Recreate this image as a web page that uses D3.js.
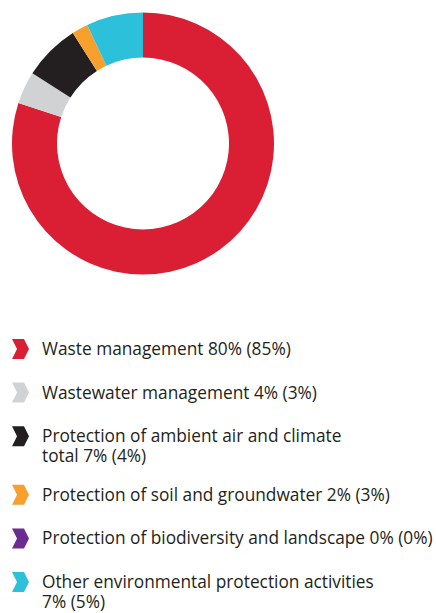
<!DOCTYPE html>
<html>
<head>
    <meta charset="UTF-8">
    <title>Environmental protection expenditure</title>
    <script src="https://d3js.org/d3.v7.min.js"></script>
    <style>
        body { margin: 0; background: #fff; }
    </style>
</head>
<body>
    <script>
        // categories (line breaks as the legend shows them)
        const categories = [
            ["Waste management"],
            ["Wastewater management"],
            ["Protection of ambient air and climate", "total"],
            ["Protection of soil and groundwater"],
            ["Protection of biodiversity and landscape"],
            ["Other environmental protection activities", ""]
        ];
        const shares = [80, 4, 7, 2, 0, 7];      // current year, %
        const prevShares = [85, 3, 4, 3, 0, 5];  // previous year, %
        const colors = ["#da1f35", "#d1d2d4", "#231f20", "#f7a02d", "#6b2c91", "#2dc0da"];

        const width = 436, height = 613;
        const cx = 143, cy = 143.5, outerR = 131, innerR = 86;

        const svg = d3.select("body").append("svg")
            .attr("width", width).attr("height", height);

        const pie = d3.pie().sort(null).value(d => d);
        const arc = d3.arc().innerRadius(innerR).outerRadius(outerR);

        svg.append("g")
            .attr("transform", `translate(${cx}, ${cy})`)
            .selectAll("path")
            .data(pie(shares)).enter().append("path")
            .attr("d", arc)
            .attr("fill", (d, i) => colors[i]);

        // legend
        const legend = svg.append("g")
            .attr("font-family", "'Open Sans', sans-serif")
            .attr("font-size", 17.3)
            .attr("fill", "#231f20");

        const lineH = 20;
        let y = 349;
        categories.forEach((lines, i) => {
            const row = legend.append("g").attr("transform", `translate(0, ${y})`);
            row.append("path")
                .attr("d", "M12,-10 L24,-10 L29,0 L24,10 L12,10 L17,0 Z")
                .attr("fill", colors[i]);

            const label = lines.slice();
            const tail = `${shares[i]}% (${prevShares[i]}%)`;
            const last = label.length - 1;
            label[last] = label[last] ? label[last] + " " + tail : tail;

            const text = row.append("text").attr("x", 42).attr("y", 6);
            label.forEach((l, j) => {
                text.append("tspan").attr("x", 42).attr("dy", j === 0 ? 0 : lineH).text(l);
            });
            y += 43.6 + (lines.length - 1) * 15;
        });
    </script>
</body>
</html>
